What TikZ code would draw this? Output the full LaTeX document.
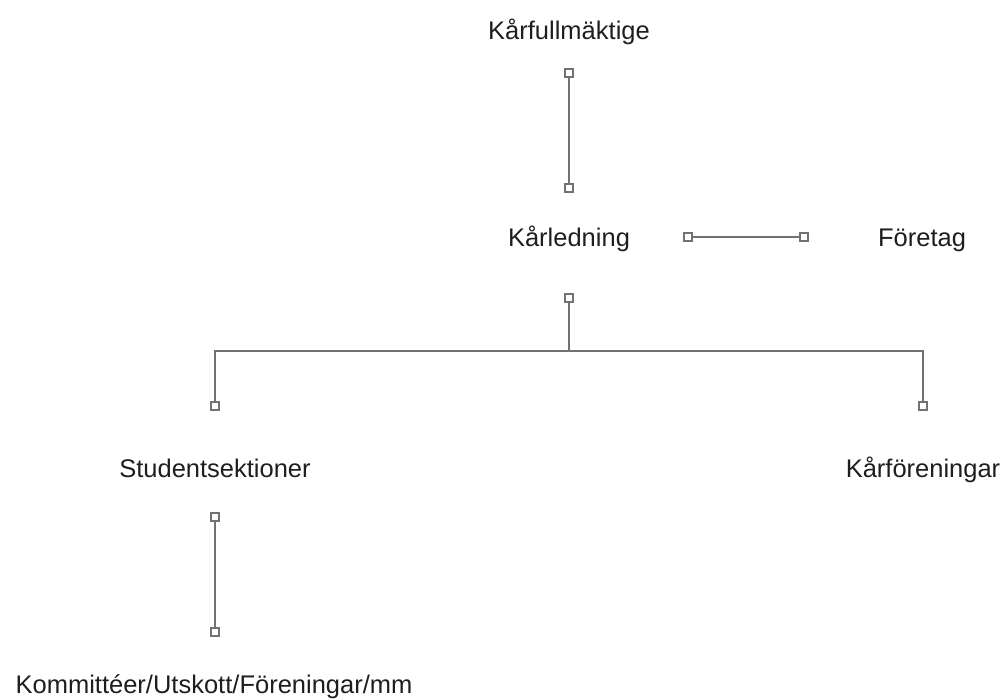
\documentclass[tikz,border=0pt]{standalone}
\usepackage{fontspec}
\setmainfont{Liberation Sans}
\definecolor{linegray}{HTML}{727272}
\definecolor{txt}{HTML}{1E1E1E}
\begin{document}
\begin{tikzpicture}[x=1pt,y=-1pt,
  lbl/.style={text=txt,font=\fontsize{25.5}{30}\selectfont,inner sep=0pt,anchor=base},
  sq/.style={draw=linegray,fill=white,line width=1.5pt,minimum size=8pt,inner sep=0pt,rectangle},
  conn/.style={draw=linegray,line width=2pt}]
\useasboundingbox (0,0) rectangle (1003,700);
\node[lbl] (kf) at (569,40) {Kårfullmäktige};
\node[lbl] (kl) at (569,247) {Kårledning};
\node[lbl] (ft) at (922,247) {Företag};
\node[lbl] (ss) at (215,477) {Studentsektioner};
\node[lbl] (kfo) at (923,477) {Kårföreningar};
\node[lbl] (ko) at (214,693) {Kommittéer/Utskott/Föreningar/mm};
\node[sq] (a1) at (569,73) {};
\node[sq] (a2) at (569,188) {};
\node[sq] (b1) at (688,237) {};
\node[sq] (b2) at (804,237) {};
\node[sq] (c0) at (569,298) {};
\node[sq] (c1) at (215,406) {};
\node[sq] (c2) at (923,406) {};
\node[sq] (d1) at (215,517) {};
\node[sq] (d2) at (215,632) {};
\coordinate (j) at (569,351);
\draw[conn] (a1) -- (a2);
\draw[conn] (b1) -- (b2);
\draw[conn] (c0) -- (j);
\draw[conn] (c1) |- (j) -| (c2);
\draw[conn] (d1) -- (d2);
\end{tikzpicture}
\end{document}
